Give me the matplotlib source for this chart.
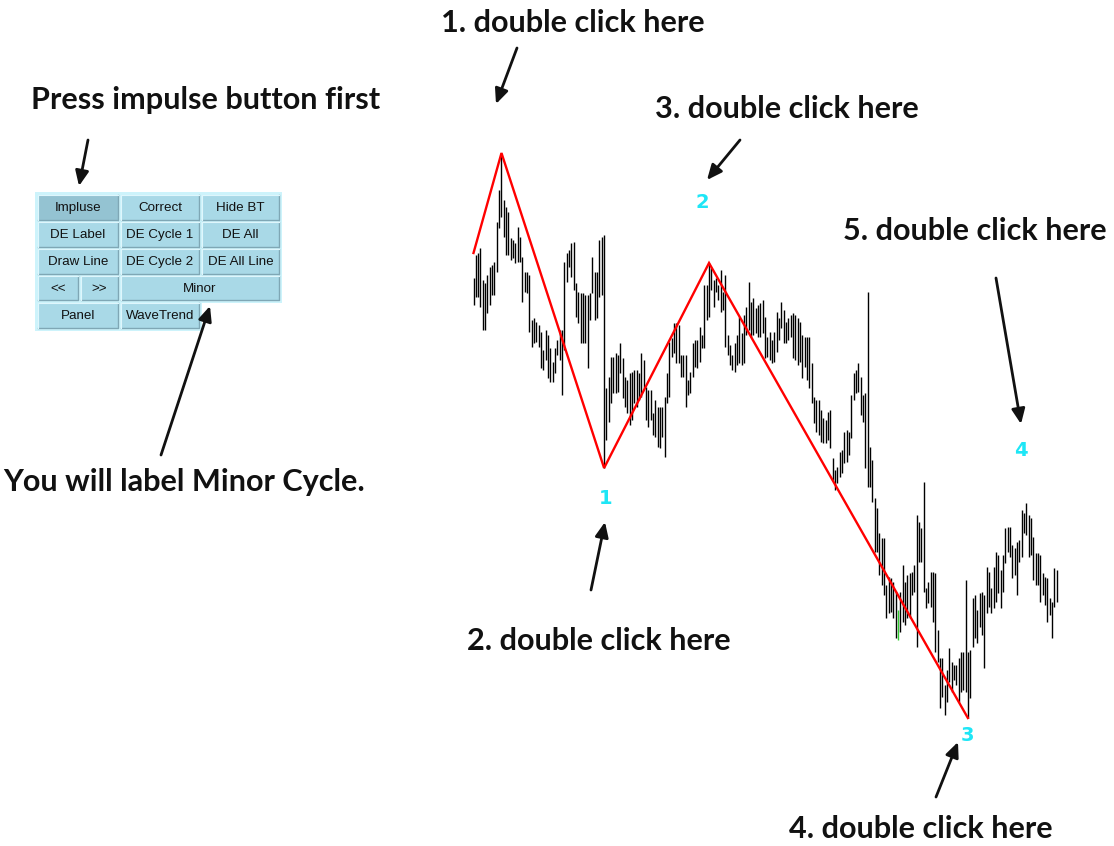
import matplotlib
matplotlib.use("Agg")
import matplotlib.pyplot as plt
from matplotlib.patches import Rectangle
from matplotlib.transforms import ScaledTranslation

# price bars (high / low), left to right
highs = [482, 505, 507, 512, 480, 477, 485, 493, 495, 498, 538, 570, 607, 560, 553, 548, 522, 520, 517, 533,
         523, 503, 488, 488, 485, 440, 442, 438, 435, 428, 410, 430, 425, 412, 398, 412, 420, 430, 430, 498,
         507, 510, 517, 518, 477, 468, 467, 467, 465, 465, 467, 503, 488, 488, 520, 523, 525, 372, 383, 403,
         403, 407, 405, 417, 402, 383, 380, 387, 388, 390, 390, 387, 407, 400, 373, 370, 370, 347, 360, 353,
         353, 353, 363, 387, 418, 422, 437, 437, 435, 405, 405, 405, 380, 388, 417, 420, 420, 433, 425, 475,
         475, 497, 492, 480, 482, 475, 490, 468, 485, 425, 415, 405, 417, 425, 443, 427, 445, 453, 478, 458,
         462, 452, 455, 457, 460, 443, 423, 428, 420, 428, 448, 442, 458, 450, 438, 442, 445, 447, 445, 442,
         438, 425, 423, 423, 423, 397, 363, 360, 360, 350, 342, 340, 348, 350, 302, 290, 293, 308, 310, 328,
         330, 328, 365, 387, 390, 397, 383, 365, 367, 468, 313, 300, 262, 252, 227, 222, 222, 175, 183, 182,
         178, 168, 150, 168, 195, 178, 185, 187, 188, 195, 245, 238, 232, 278, 172, 178, 188, 188, 187, 130,
         102, 102, 75, 90, 112, 98, 95, 95, 102, 108, 108, 180, 108, 110, 162, 165, 150, 167, 168, 165,
         193, 188, 172, 193, 208, 205, 190, 205, 232, 233, 233, 215, 212, 218, 220, 250, 247, 257, 245, 242,
         223, 207, 207, 205, 187, 183, 182, 162, 158, 192, 190]
lows = [455, 463, 463, 453, 430, 430, 447, 455, 465, 465, 488, 532, 543, 523, 505, 505, 500, 502, 497, 498,
        498, 458, 468, 467, 428, 413, 417, 418, 413, 392, 390, 400, 382, 378, 378, 387, 405, 400, 365, 410,
        478, 493, 483, 470, 443, 437, 417, 417, 417, 392, 440, 467, 440, 442, 463, 465, 292, 320, 338, 357,
        367, 367, 368, 387, 362, 353, 347, 335, 340, 357, 353, 360, 363, 372, 340, 333, 340, 325, 323, 313,
        312, 323, 303, 357, 363, 403, 407, 397, 397, 383, 383, 353, 365, 367, 383, 393, 392, 398, 412, 412,
        440, 443, 470, 453, 468, 460, 448, 450, 413, 405, 395, 390, 388, 395, 397, 395, 397, 425, 430, 423,
        425, 427, 423, 423, 427, 402, 403, 400, 397, 398, 408, 420, 432, 417, 417, 420, 423, 402, 400, 395,
        398, 382, 393, 380, 372, 357, 337, 328, 325, 318, 317, 317, 320, 312, 280, 270, 277, 283, 287, 297,
        298, 305, 322, 360, 367, 368, 345, 338, 292, 273, 273, 258, 208, 208, 185, 175, 165, 142, 147, 148,
        142, 122, 120, 128, 138, 135, 142, 142, 165, 168, 113, 198, 198, 168, 152, 157, 153, 138, 108, 98,
        52, 63, 45, 58, 78, 68, 80, 75, 58, 68, 70, 68, 42, 62, 113, 122, 117, 133, 125, 92,
        147, 153, 147, 152, 158, 167, 152, 168, 197, 208, 203, 182, 185, 165, 198, 203, 227, 225, 203, 205,
        180, 175, 175, 158, 165, 155, 138, 145, 122, 153, 158]
green_bar = 182

# zigzag (impulse) pivots: bar index and price
pivot_idx = [0, 12, 56, 101, 212]
pivot_price = [507, 607, 292, 497, 42]

# wave labels: text, bar index, price, offset in pixels
wave_text = ['1', '2', '3', '4']
wave_idx = [56, 101, 212, 237]
wave_price = [292, 497, 42, 257]
wave_dx = [2, -7, 0, -5]
wave_dy = [-30, 60, -17, 53]

# instruction texts: text, centre x, baseline y (figure pixels)
notes = ["1. double click here", "Press impulse button first", "3. double click here",
         "5. double click here", "You will label Minor Cycle.", "2. double click here",
         "4. double click here"]
note_x = [573, 206, 787, 975, 184, 599, 921]
note_y = [32, 109, 118, 240, 491, 650, 838]

arrow_tail = [(517, 48), (88, 140), (740, 140), (996, 278), (161, 455), (591, 590), (936, 797)]
arrow_head = [(496, 104), (79, 186), (707, 180), (1021, 424), (210, 306), (605, 522), (958, 742)]

# button panel
buttons = [("Impluse", 38, 195, 80, 25), ("Correct", 121, 195, 78, 25), ("Hide BT", 202, 195, 77, 25),
           ("DE Label", 38, 222, 80, 25), ("DE Cycle 1", 121, 222, 78, 25), ("DE All", 202, 222, 77, 25),
           ("Draw Line", 38, 249, 80, 25), ("DE Cycle 2", 121, 249, 78, 25), ("DE All Line", 202, 249, 77, 25),
           ("<<", 38, 276, 40, 24), (">>", 81, 276, 37, 24), ("Minor", 121, 276, 158, 24),
           ("Panel", 38, 303, 80, 25), ("WaveTrend", 121, 303, 78, 25)]

W, H = 1114, 846
fig = plt.figure(figsize=(W / 100, H / 100), dpi=100)

# chart axes: bar i sits at x0 + i*dx pixels, price p at y = 760 - p pixels
x0, dx = 473.5, 2.332
xlo, xhi = -4, 254
plo, phi = 20, 620
ax = fig.add_axes([(x0 + xlo * dx) / W, (H - (760 - plo)) / H, (xhi - xlo) * dx / W, (phi - plo) / H])
ax.set_xlim(xlo, xhi)
ax.set_ylim(plo, phi)
ax.axis('off')

idx = list(range(len(highs)))
colors = ['#33cc33' if i == green_bar else '#000000' for i in idx]
ax.vlines(idx, lows, highs, colors=colors, lw=1.0)
ax.plot(pivot_idx, pivot_price, color='#ff0000', lw=1.7, solid_joinstyle='miter')

cyan = '#1ee6f6'
for t, i, p, ox, oy in zip(wave_text, wave_idx, wave_price, wave_dx, wave_dy):
    ax.annotate(t, xy=(i, p), xytext=(ox, oy), textcoords='offset pixels', ha='center', va='center',
                color=cyan, fontsize=14, fontweight='bold', family='DejaVu Sans')
# tiny cyan mark above the first peak
ax.plot([pivot_idx[1]], [pivot_price[1]], marker='s', ms=1.8, color=cyan, lw=0,
        transform=ax.transData + ScaledTranslation(-8 / 100, 36 / 100, fig.dpi_scale_trans))

# overlay in pixel coordinates
ov = fig.add_axes([0, 0, 1, 1])
ov.set_xlim(0, W)
ov.set_ylim(H, 0)
ov.axis('off')

ov.add_patch(Rectangle((35, 192), 247, 111, color='#cdf3fb', lw=0))
ov.add_patch(Rectangle((35, 300), 167, 31, color='#cdf3fb', lw=0))
for lab, bx, by, bw, bh in buttons:
    face = '#94c3d2' if lab == "Impluse" else '#a9d9e7'
    ov.add_patch(Rectangle((bx, by), bw, bh, facecolor=face, lw=0))
    ov.plot([bx, bx + bw, bx + bw], [by + bh, by + bh, by], color='#7fa7b5', lw=1.0)
    ov.plot([bx, bx, bx + bw], [by + bh, by, by], color='#dff6fc', lw=0.8)
    ov.text(bx + bw / 2, by + bh / 2 + 0.5, lab, ha='center', va='center', fontsize=9.6,
            family='Liberation Sans', color='#111111')

# fit the instruction font to the width of the first note
fig.canvas.draw()
r = fig.canvas.get_renderer()
probe = ov.text(0, 0, notes[0], fontsize=20, family='Lato', fontweight='bold')
fs = 20 * 264 / probe.get_window_extent(r).width
probe.remove()

for t, tx, ty in zip(notes, note_x, note_y):
    ov.text(tx, ty, t, ha='center', va='baseline', fontsize=fs, family='Lato',
            fontweight='bold', color='#111111')

for (tx, ty), (hx, hy) in zip(arrow_tail, arrow_head):
    ov.annotate('', xy=(hx, hy), xytext=(tx, ty),
                arrowprops=dict(arrowstyle='-|>,head_length=0.9,head_width=0.4', color='#111111',
                                lw=2.0, shrinkA=0, shrinkB=0))

fig.savefig('out.png', dpi=100)
